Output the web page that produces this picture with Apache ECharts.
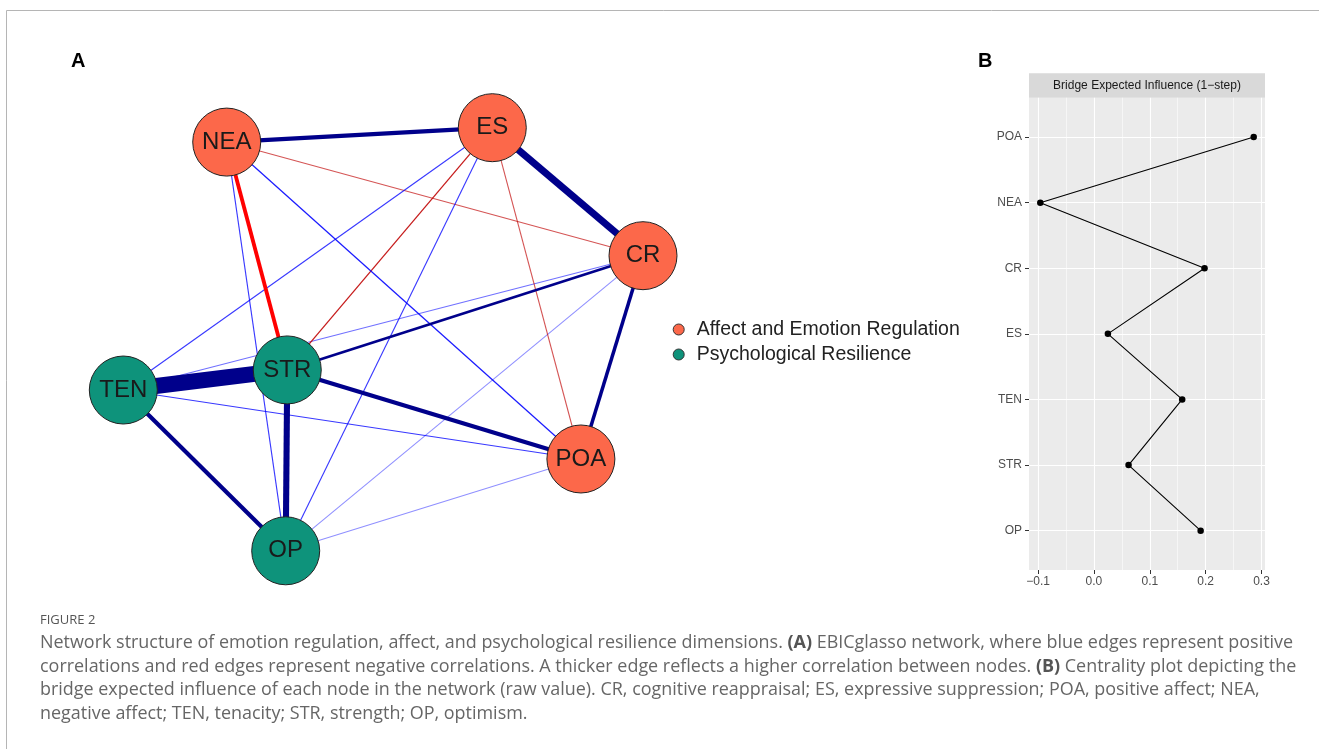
<!DOCTYPE html>
<html><head><meta charset="utf-8">
<script src="https://cdn.jsdelivr.net/npm/echarts@6/dist/echarts.min.js"></script>
<style>html,body{margin:0;padding:0;background:#fff}#c{width:1319px;height:749px}</style>
</head><body><div id="c"></div>
<script>
// ---- Panel A: network ----
const nodeNames = ['NEA', 'ES', 'CR', 'POA', 'OP', 'TEN', 'STR'];
const nodeGroup = [0, 0, 0, 0, 1, 1, 1];
const groupNames = ['Affect and Emotion Regulation', 'Psychological Resilience'];
const groupColors = ['#FC684A', '#0E937B'];
// layout (qgraph-style normalised coordinates)
const nodeX = [-0.602, 0.420, 1.000, 0.761, -0.375, -1.000, -0.369];
const nodeY = [0.932, 1.000, 0.395, -0.566, -1.000, -0.240, -0.145];
// edges, weakest first
const edgeFrom   = ['POA', 'CR', 'CR', 'NEA', 'ES', 'ES', 'ES', 'ES', 'TEN', 'NEA', 'NEA', 'CR', 'CR', 'NEA', 'NEA', 'TEN', 'STR', 'STR', 'ES', 'TEN'];
const edgeTo     = ['OP', 'OP', 'TEN', 'CR', 'POA', 'STR', 'TEN', 'OP', 'POA', 'OP', 'POA', 'STR', 'POA', 'STR', 'ES', 'OP', 'POA', 'OP', 'CR', 'STR'];
const edgeWeight = [0.02, 0.02, 0.025, -0.03, -0.03, -0.04, 0.035, 0.035, 0.035, 0.035, 0.04, 0.08, 0.11, -0.12, 0.13, 0.13, 0.13, 0.19, 0.22, 0.50];

// ---- Panel B: bridge expected influence ----
const bridgeNodes = ['POA', 'NEA', 'CR', 'ES', 'TEN', 'STR', 'OP'];
const bridgeEI = [0.286, -0.096, 0.198, 0.025, 0.158, 0.062, 0.191];
const xTicks = [-0.1, 0.0, 0.1, 0.2, 0.3];
const xMinorTicks = [-0.05, 0.05, 0.15, 0.25];
const yTicks = [0, 1, 2, 3, 4, 5, 6];

const captionHead = 'FIGURE 2';
const captionLines = [
  'Network structure of emotion regulation, affect, and psychological resilience dimensions. {b|(A)} EBICglasso network, where blue edges represent positive',
  'correlations and red edges represent negative correlations. A thicker edge reflects a higher correlation between nodes. {b|(B)} Centrality plot depicting the',
  'bridge expected influence of each node in the network (raw value). CR, cognitive reappraisal; ES, expressive suppression; POA, positive affect; NEA,',
  'negative affect; TEN, tenacity; STR, strength; OP, optimism.'
];

function edgeColor(w) {
  const a = Math.abs(w);
  if (a >= 0.06) return w > 0 ? '#00008B' : '#FF0000';
  const al = Math.min(1, a / 0.045).toFixed(2);
  return w > 0 ? 'rgba(0,0,255,' + al + ')' : 'rgba(191,0,0,' + al + ')';
}
function edgeWidth(w) { return Math.max(1.1, Math.abs(w) * 32); }

// caption font size fitted to the measured line width
const capFont = '"Open Sans", "Noto Sans", sans-serif';
const cv = document.createElement('canvas').getContext('2d');
cv.font = '16px ' + capFont;
const plain1 = captionLines[0].replace(/\{b\|([^}]*)\}/g, '$1');
const capSize = +(16 * 1252 / cv.measureText(plain1).width).toFixed(2);

const chart = echarts.init(document.getElementById('c'), null, {renderer: 'canvas'});
const fmt = v => (v < 0 ? '\u2212' + Math.abs(v).toFixed(1) : v.toFixed(1));

const graphic = [
  {type: 'rect', shape: {x: 6.5, y: 10.5, width: 1400, height: 800}, style: {fill: 'none', stroke: '#b5b5b5', lineWidth: 1}, silent: true},
  {type: 'text', x: 71, y: 61, style: {text: 'A', fontSize: 20, fontWeight: 'bold', fill: '#000', fontFamily: 'Liberation Sans', verticalAlign: 'middle'}},
  {type: 'text', x: 978, y: 61, style: {text: 'B', fontSize: 20, fontWeight: 'bold', fill: '#000', fontFamily: 'Liberation Sans', verticalAlign: 'middle'}},
  {type: 'rect', shape: {x: 1029, y: 73.3, width: 236, height: 24.4}, style: {fill: '#D9D9D9'}},
  {type: 'text', x: 1147, y: 86, style: {text: 'Bridge Expected Influence (1\u2212step)', fontSize: 12, fill: '#1A1A1A', fontFamily: 'Liberation Sans', align: 'center', verticalAlign: 'middle'}},
  {type: 'text', x: 40, y: 620, style: {text: captionHead, fontSize: 13, fill: '#555', fontFamily: capFont, verticalAlign: 'middle'}}
];
captionLines.forEach((t, i) => {
  graphic.push({type: 'text', x: 40, y: 643 + i * 23.6, style: {
    text: t, fontSize: capSize, fill: '#666', fontFamily: capFont, verticalAlign: 'middle',
    rich: {b: {fontWeight: 'bold', fontSize: capSize, fill: '#555', fontFamily: capFont}}
  }});
});

const option = {
  backgroundColor: '#fff',
  animation: false,
  graphic: graphic,
  legend: {
    data: groupNames, orient: 'vertical', left: 667.7, top: 314,
    itemWidth: 26, itemHeight: 11, itemGap: 4, icon: 'circle', selectedMode: false,
    itemStyle: {borderColor: '#333', borderWidth: 1},
    textStyle: {fontSize: 19.5, color: '#222', lineHeight: 21, fontFamily: 'Liberation Sans'}
  },
  grid: [
    {left: 123.3, top: 127.7, width: 519.7, height: 423.1, show: false},
    {left: 1029, top: 97.7, width: 236, height: 472.3, show: true, backgroundColor: '#EBEBEB', borderWidth: 0}
  ],
  xAxis: [
    {gridIndex: 0, type: 'value', min: -1, max: 1, show: false},
    {gridIndex: 1, type: 'value', min: -0.1162, max: 0.3062, position: 'bottom',
      axisLine: {show: false, onZero: false},
      axisTick: {show: true, length: 4, lineStyle: {color: '#333'}, customValues: xTicks},
      axisLabel: {customValues: xTicks, formatter: fmt, color: '#4D4D4D', fontSize: 12, fontFamily: 'Liberation Sans', margin: 6},
      splitLine: {show: true, lineStyle: {color: '#fff', width: 1.1}}},
    {gridIndex: 1, type: 'value', min: -0.1162, max: 0.3062, position: 'top',
      axisLine: {show: false, onZero: false}, axisLabel: {show: false},
      axisTick: {show: false, customValues: xMinorTicks},
      splitLine: {show: true, lineStyle: {color: '#fff', width: 0.55}}}
  ],
  yAxis: [
    {gridIndex: 0, type: 'value', min: -1, max: 1, show: false},
    {gridIndex: 1, type: 'value', min: -0.6, max: 6.6, inverse: true, position: 'left',
      axisLine: {show: false, onZero: false},
      axisTick: {show: true, length: 4, lineStyle: {color: '#333'}, customValues: yTicks},
      axisLabel: {customValues: yTicks, formatter: v => bridgeNodes[Math.round(v)], color: '#4D4D4D', fontSize: 12, fontFamily: 'Liberation Sans', margin: 7},
      splitLine: {show: true, lineStyle: {color: '#fff', width: 1.1}}}
  ],
  series: [
    {
      type: 'graph', coordinateSystem: 'cartesian2d', xAxisIndex: 0, yAxisIndex: 0,
      symbolSize: 68, silent: true, z: 3,
      categories: groupNames.map((n, i) => ({name: n, itemStyle: {color: groupColors[i]}})),
      data: nodeNames.map((n, i) => ({name: n, value: [nodeX[i], nodeY[i]], category: nodeGroup[i]})),
      links: edgeFrom.map((f, i) => ({source: f, target: edgeTo[i],
        lineStyle: {width: edgeWidth(edgeWeight[i]), color: edgeColor(edgeWeight[i]), opacity: 1, curveness: 0}})),
      itemStyle: {borderColor: '#222', borderWidth: 1},
      label: {show: true, position: 'inside', fontSize: 24, color: '#1a1a1a', fontFamily: 'Liberation Sans'},
      emphasis: {disabled: true}
    },
    {
      type: 'line', xAxisIndex: 1, yAxisIndex: 1,
      data: bridgeEI.map((v, i) => [v, i]),
      symbol: 'circle', symbolSize: 6.5, showSymbol: true,
      lineStyle: {color: '#000', width: 1.1}, itemStyle: {color: '#000'},
      silent: true, z: 3
    }
  ]
};
chart.setOption(option);
</script></body></html>
